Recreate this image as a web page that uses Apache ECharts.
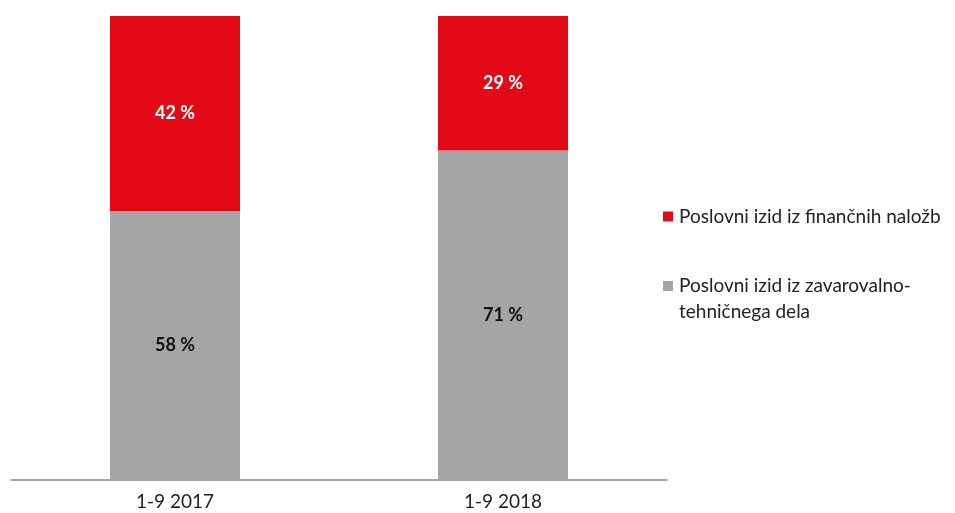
<!DOCTYPE html>
<html><head><meta charset="utf-8">
<script src="https://cdn.jsdelivr.net/npm/echarts@6/dist/echarts.min.js"></script>
<style>html,body{margin:0;padding:0;background:#fff}#c{width:955px;height:513px}</style>
</head><body><div id="c"></div>
<script>
var categories = ['1-9 2017', '1-9 2018'];
var seriesNames = ['Poslovni izid iz zavarovalno-tehničnega dela', 'Poslovni izid iz finančnih naložb'];
var technical = [58, 71];
var financial = [42, 29];

var FONT = 'Lato, "Open Sans", sans-serif';
var chart = echarts.init(document.getElementById('c'));
chart.setOption({
  animation: false,
  grid: {left: 11, right: 288, top: 16, bottom: 33},
  xAxis: {
    type: 'category', data: categories,
    axisLine: {lineStyle: {color: '#8c8c8c', width: 1.5}},
    axisTick: {show: false},
    axisLabel: {color: '#222', fontSize: 19, fontFamily: FONT, margin: 12}
  },
  yAxis: {type: 'value', min: 0, max: 100, show: false, splitLine: {show: false}},
  legend: [{
    orient: 'vertical', left: 658, top: 202,
    data: [seriesNames[1]], icon: 'rect', itemWidth: 10, itemHeight: 10, itemGap: 6,
    textStyle: {fontSize: 19, fontFamily: FONT, color: '#222', padding: [0, 0, 0, 1]}
  }, {
    orient: 'vertical', left: 658, top: 242,
    data: [seriesNames[0]], icon: 'rect', itemWidth: 10, itemHeight: 10,
    formatter: function () { return '\nPoslovni izid iz zavarovalno-\ntehničnega dela'; },
    textStyle: {fontSize: 19, lineHeight: 26, fontFamily: FONT, color: '#222', padding: [0, 0, 0, 1]}
  }],
  series: [{
    name: seriesNames[0], type: 'bar', stack: 's', data: technical, barWidth: 130,
    itemStyle: {color: '#a5a5a5'},
    label: {show: true, position: 'inside', formatter: '{c} %', color: '#111', fontWeight: 'bold', fontSize: 18, fontFamily: FONT}
  }, {
    name: seriesNames[1], type: 'bar', stack: 's', data: financial, barWidth: 130,
    itemStyle: {color: '#e20a17'},
    label: {show: true, position: 'inside', formatter: '{c} %', color: '#fff', fontWeight: 'bold', fontSize: 18, fontFamily: FONT}
  }]
});
</script></body></html>
